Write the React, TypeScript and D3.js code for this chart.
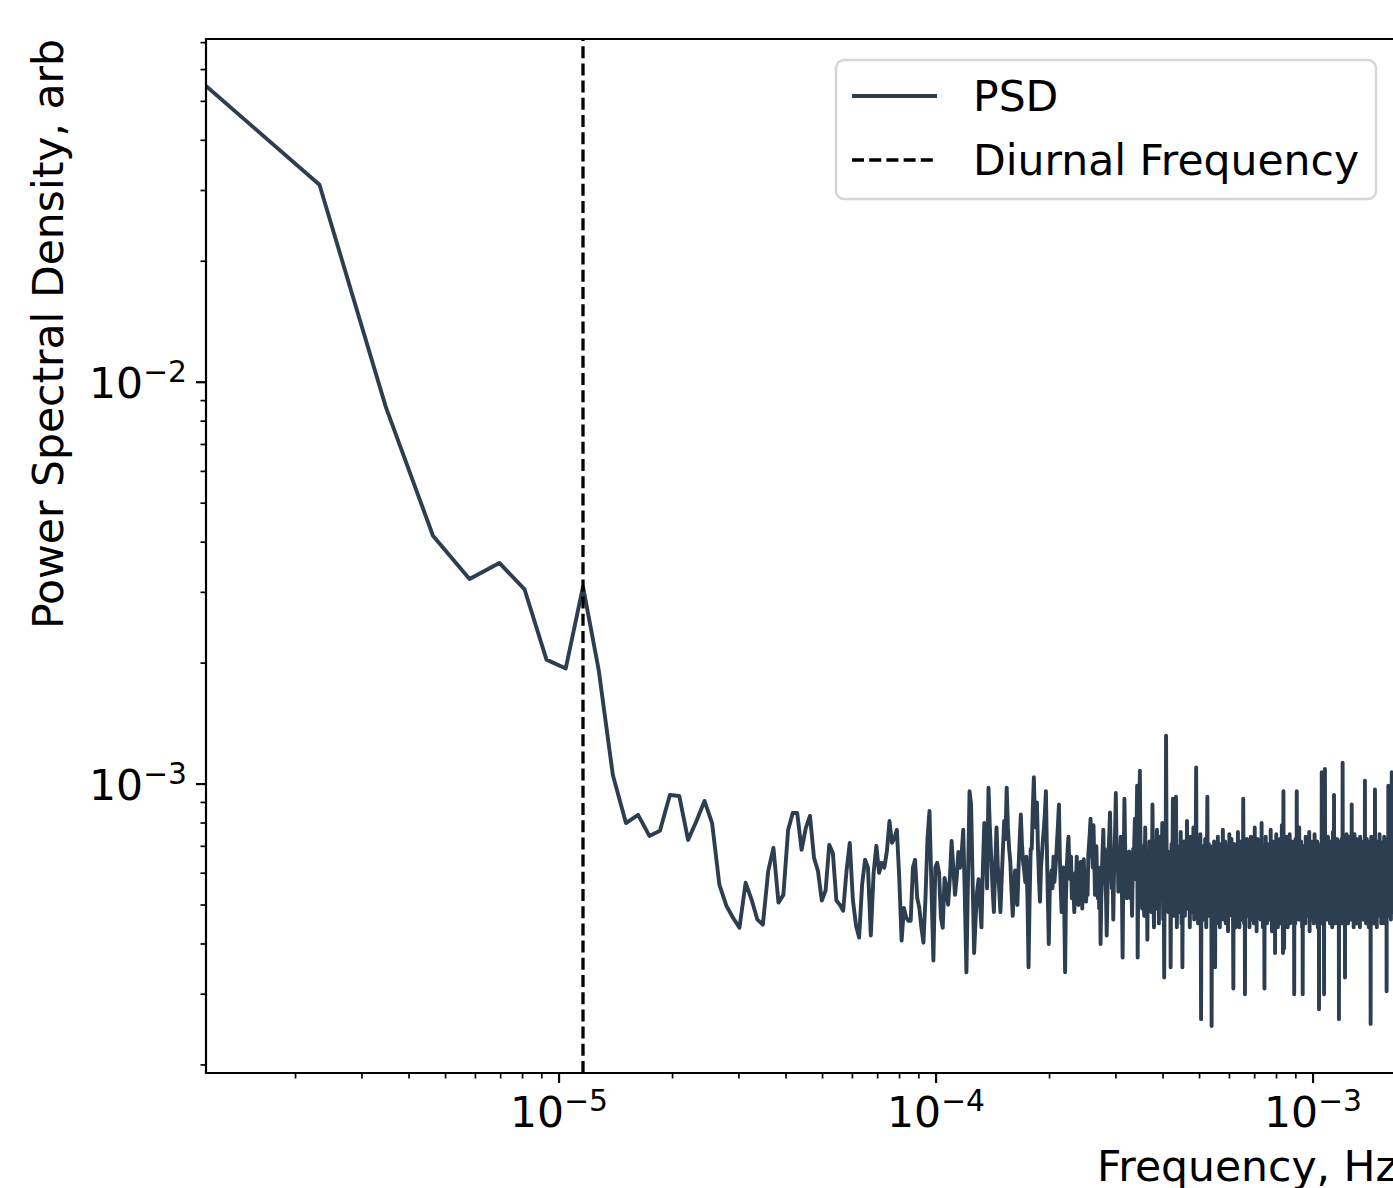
import * as d3 from 'd3'
import { useEffect, useRef } from 'react'

// 10 days of 1 s samples -> bin spacing of the periodogram
const SAMPLE_SECONDS = 864000
const DIURNAL_HZ = 1 / 86400
const TAIL_UNIT = 1e-5

// bins k = 1..100, arb units
const psdHead = [
  0.0546, 0.031, 0.00867, 0.00415, 0.00324, 0.00355, 0.00305, 0.00204, 0.00194, 0.0031,
  0.00193, 0.001053, 0.0008, 0.000838, 0.000743, 0.000765, 0.000939, 0.000934, 0.000726, 0.000809,
  0.000908, 0.0008, 0.000562, 0.000498, 0.000465, 0.000439, 0.000568, 0.000516, 0.00046, 0.000447,
  0.000608, 0.000694, 0.000507, 0.00053, 0.000769, 0.000847, 0.000847, 0.000686, 0.000778, 0.000833,
  0.000655, 0.000608, 0.000513, 0.000543, 0.000706, 0.000674, 0.000513, 0.000501, 0.000484, 0.000608,
  0.000714, 0.000513, 0.000444, 0.000415, 0.000562, 0.000648, 0.000619, 0.00042, 0.000601, 0.000702,
  0.000601, 0.000637, 0.000619, 0.000682, 0.000809, 0.000714, 0.000734, 0.000769, 0.000584, 0.000408,
  0.000492, 0.000465, 0.000457, 0.000457, 0.000619, 0.000648, 0.000521, 0.000492, 0.000439, 0.000403,
  0.000521, 0.000734, 0.000857, 0.000552, 0.000364, 0.000619, 0.000637, 0.000601, 0.000465, 0.000439,
  0.000584, 0.000552, 0.000501, 0.000584, 0.000722, 0.000619, 0.00053, 0.000584, 0.000678, 0.000619,
]

// bins k = 101..300, x1e-5
const psdMid = [
  67, 77, 52, 34, 58, 96, 89, 58, 38, 46, 54, 58, 51, 44, 62, 80, 73, 55, 98, 78,
  66, 55, 48, 62, 78, 62, 55, 48, 58, 69, 81, 73, 98, 78, 69, 64, 54, 47, 54, 61,
  55, 50, 62, 73, 84, 71, 64, 61, 57, 66, 52, 35, 52, 69, 69, 87, 104, 82, 78, 90,
  69, 58, 51, 62, 67, 73, 78, 85, 96, 69, 52, 40, 54, 58, 61, 55, 66, 57, 61, 66,
  73, 80, 89, 66, 55, 48, 58, 62, 49, 34, 52, 62, 69, 74, 62, 58, 66, 52, 58, 54,
  48, 60, 55, 66, 58, 50, 61, 52, 64, 57, 49, 63, 65, 56, 60, 51, 58, 53, 67, 71,
  76, 82, 66, 71, 62, 79, 66, 53, 62, 70, 58, 52, 62, 49, 58, 40, 52, 62, 69, 77,
  62, 69, 58, 52, 42, 52, 62, 69, 76, 85, 69, 62, 55, 62, 46, 58, 69, 78, 95, 73,
  62, 69, 54, 62, 58, 66, 74, 62, 52, 37, 58, 69, 92, 73, 62, 58, 52, 58, 66, 62,
  68, 58, 52, 62, 55, 47, 58, 69, 62, 73, 82, 66, 58, 78, 99, 37, 58, 69, 87, 108,
]

// bins k = 301..1420, x1e-5
const psdHigh = [
  73, 66, 58, 49, 61, 70, 55, 47, 63, 78, 52, 59, 68, 41, 57, 64, 50, 72, 60, 54,
  62, 48, 57, 89, 66, 51, 44, 60, 71, 58, 53, 65, 77, 49, 56, 62, 45, 69, 74, 55,
  60, 52, 67, 80, 57, 46, 63, 33, 59, 70, 54, 132, 75, 50, 61, 68, 48, 58, 65, 53,
  64, 35, 57, 71, 49, 62, 92, 55, 47, 66, 73, 58, 51, 93, 60, 44, 68, 56, 63, 52,
  59, 70, 48, 61, 76, 54, 45, 67, 35, 58, 64, 50, 72, 57, 47, 62, 69, 53, 60, 81,
  56, 49, 65, 71, 52, 60, 44, 58, 74, 63, 50, 67, 55, 48, 61, 78, 57, 46, 64, 59,
  53, 68, 110, 62, 50, 57, 72, 45, 63, 55, 69, 48, 60, 75, 52, 26, 58, 66, 47, 61,
  70, 54, 59, 46, 65, 57, 73, 50, 62, 44, 56, 68, 93, 58, 49, 63, 71, 52, 47, 60,
  66, 55, 48, 61, 25, 58, 70, 53, 46, 64, 59, 72, 50, 57, 35, 62, 68, 45, 56, 63,
  51, 60, 74, 47, 58, 65, 53, 69, 44, 57, 62, 50, 71, 56, 48, 63, 59, 77, 52, 46,
  61, 67, 54, 49, 72, 58, 45, 63, 55, 70, 51, 59, 66, 43, 57, 64, 52, 75, 60, 48,
  56, 65, 50, 62, 73, 47, 58, 54, 68, 45, 31, 60, 71, 53, 57, 49, 66, 61, 44, 58,
  69, 52, 59, 47, 63, 76, 55, 50, 61, 57, 44, 67, 72, 51, 58, 64, 46, 60, 70, 54,
  62, 49, 57, 92, 66, 53, 45, 60, 71, 30, 58, 64, 50, 67, 55, 47, 73, 59, 52, 61,
  48, 65, 57, 70, 53, 44, 61, 68, 55, 49, 74, 58, 63, 46, 56, 67, 52, 60, 71, 50,
  57, 45, 64, 59, 78, 52, 48, 62, 55, 69, 60, 43, 58, 66, 51, 73, 56, 47, 63, 59,
  54, 68, 61, 50, 57, 72, 46, 63, 55, 59, 80, 49, 58, 65, 52, 44, 62, 70, 56, 53,
  60, 31, 57, 67, 52, 63, 74, 48, 59, 55, 66, 45, 61, 71, 53, 58, 49, 64, 68, 56,
  51, 62, 58, 46, 69, 55, 77, 60, 50, 64, 57, 43, 66, 59, 72, 52, 48, 61, 56, 67,
  54, 49, 63, 70, 38, 58, 65, 53, 60, 75, 47, 56, 62, 51, 68, 57, 44, 64, 59, 71,
  52, 60, 66, 48, 57, 73, 55, 62, 45, 59, 69, 53, 61, 79, 50, 58, 64, 47, 38, 63,
  96, 57, 65, 39, 60, 54, 71, 49, 58, 67, 52, 62, 46, 74, 56, 61, 51, 68, 57, 44,
  63, 70, 55, 59, 48, 66, 57, 52, 75, 61, 45, 58, 64, 53, 69, 56, 50, 62, 72, 54,
  47, 60, 67, 52, 58, 63, 49, 71, 56, 30, 61, 66, 54, 59, 45, 73, 57, 62, 51, 64,
  58, 96, 53, 61, 47, 66, 57, 70, 52, 59, 64, 46, 60, 78, 55, 49, 63, 58, 68, 51,
  60, 56, 72, 48, 62, 57, 65, 44, 59, 67, 30, 61, 55, 70, 50, 58, 63, 47, 66, 57,
  53, 69, 58, 45, 62, 74, 51, 60, 56, 64, 49, 59, 71, 54, 47, 63, 58, 67, 52, 60,
  65, 50, 57, 76, 55, 43, 61, 58, 68, 53, 62, 47, 59, 72, 56, 51, 64, 60, 46, 69,
  57, 54, 63, 49, 70, 58, 61, 45, 66, 52, 59, 75, 55, 48, 62, 57, 67, 51, 60, 64,
  53, 47, 68, 59, 56, 72, 50, 61, 44, 58, 65, 55, 62, 49, 70, 27.5, 60, 57, 64, 52,
  59, 66, 51, 63, 48, 57, 71, 54, 60, 45, 107, 62, 56, 68, 50, 58, 64, 53, 61, 73,
  55, 49, 62, 30, 58, 67, 52, 60, 109, 56, 46, 64, 57, 71, 53, 59, 48, 65, 61, 54,
  68, 57, 50, 63, 59, 74, 46, 61, 55, 66, 52, 58, 70, 49, 62, 56, 64, 45, 59, 67,
  53, 60, 72, 48, 57, 63, 55, 69, 51, 58, 44, 65, 61, 54, 76, 50, 59, 62, 47, 66,
  58, 94, 53, 61, 49, 67, 56, 60, 45, 71, 57, 52, 64, 59, 68, 50, 55, 62, 47, 73,
  56, 61, 52, 66, 58, 48, 70, 55, 63, 57, 50, 26, 60, 67, 54, 59, 46, 72, 58, 62,
  51, 64, 57, 69, 47, 60, 55, 73, 58, 52, 62, 45, 66, 59, 113, 54, 61, 49, 68, 57,
  63, 50, 58, 71, 55, 61, 46, 67, 57, 33, 62, 54, 70, 59, 48, 64, 56, 60, 52, 75,
  58, 53, 66, 49, 61, 57, 72, 54, 60, 45, 68, 56, 63, 51, 59, 74, 47, 62, 57, 65,
  52, 60, 55, 69, 48, 63, 58, 71, 54, 61, 46, 66, 57, 89, 53, 60, 50, 67, 59, 56,
  64, 49, 58, 72, 55, 61, 44, 68, 57, 53, 63, 59, 75, 50, 56, 66, 48, 62, 58, 70,
  54, 60, 47, 65, 58, 73, 52, 57, 62, 45, 69, 56, 61, 53, 67, 58, 50, 64, 71, 55,
  59, 48, 63, 57, 70, 52, 61, 56, 66, 44, 58, 74, 55, 60, 49, 65, 57, 62, 51, 68,
  56, 63, 50, 59, 72, 54, 61, 47, 67, 58, 55, 64, 46, 60, 71, 53, 58, 66, 49, 62,
  57, 68, 52, 61, 55, 102, 58, 48, 64, 60, 53, 70, 56, 45, 63, 59, 67, 51, 57, 73,
  54, 60, 49, 66, 58, 62, 47, 71, 55, 59, 65, 52, 61, 44, 68, 57, 63, 50, 58, 69,
  56, 51, 64, 59, 72, 48, 61, 25.3, 57, 66, 53, 60, 74, 55, 47, 62, 58, 67, 52, 60,
  65, 54, 58, 70, 49, 61, 56, 63, 45, 68, 57, 52, 66, 59, 73, 50, 60, 55, 64, 48,
  97, 58, 53, 62, 69, 56, 47, 64, 59, 71, 52, 60, 57, 66, 44, 61, 55, 68, 58, 63,
  50, 59, 72, 55, 61, 47, 66, 57, 62, 53, 70, 58, 49, 64, 56, 60, 75, 52, 59, 65,
  54, 61, 48, 67, 58, 63, 52, 71, 56, 45, 62, 59, 66, 53, 69, 57, 50, 64, 60, 55,
  68, 52, 59, 63, 47, 72, 57, 61, 54, 66, 49, 60, 58, 74, 53, 62, 56, 45, 65, 59,
  57, 64, 51, 69, 58, 55, 62, 48, 67, 60, 53, 71, 56, 30.5, 61, 58, 65, 50, 63, 57,
  52, 66, 59, 73, 54, 61, 48, 99, 57, 63, 55, 68, 50, 60, 58, 70, 47, 62, 56, 64,
  59, 53, 67, 57, 62, 50, 71, 55, 60, 46, 65, 58, 63, 52, 69, 56, 107, 54, 61, 58,
  64, 50, 57, 68, 55, 61, 48, 66, 59, 53, 72, 57, 62, 49, 60, 67, 54, 58, 63, 56,
]

const legendItems = ['PSD', 'Diurnal Frequency']

const App = () => {
  const svgRef = useRef<SVGSVGElement>(null)

  useEffect(() => {
    const width = 1393
    const height = 1188
    const margin = { top: 39, left: 206, bottom: 1073 }
    const decadePx = 377
    const fStart = 1 / SAMPLE_SECONDS
    const fEnd = 0.5
    const font = 'DejaVu Sans'
    const fs = 42.5
    const supFs = fs * 0.7
    const lineColor = '#2c3e50'
    const dash = '12,5.2'

    const values = [
      ...psdHead,
      ...psdMid.map((v) => v * TAIL_UNIT),
      ...psdHigh.map((v) => v * TAIL_UNIT),
    ]
    const data: [number, number][] = values.map((v, i) => [(i + 1) / SAMPLE_SECONDS, v])

    const svg = d3.select(svgRef.current)
    svg.selectAll('*').remove()

    const x = d3
      .scaleLog()
      .domain([fStart, fEnd])
      .range([margin.left, margin.left + decadePx * Math.log10(fEnd / fStart)])

    // matplotlib style 5% margin in log space
    const lo = d3.min(values) as number
    const hi = d3.max(values) as number
    const pad = 0.05 * Math.log10(hi / lo)
    const y = d3
      .scaleLog()
      .domain([lo / Math.pow(10, pad), hi * Math.pow(10, pad)])
      .range([margin.bottom, margin.top])

    svg
      .append('rect')
      .attr('width', width)
      .attr('height', height)
      .attr('fill', '#ffffff')

    svg
      .append('defs')
      .append('clipPath')
      .attr('id', 'plot-area')
      .append('rect')
      .attr('x', margin.left)
      .attr('y', margin.top)
      .attr('width', width - margin.left)
      .attr('height', margin.bottom - margin.top)

    const line = d3
      .line<[number, number]>()
      .x((d) => x(d[0]))
      .y((d) => y(d[1]))

    svg
      .append('path')
      .datum(data)
      .attr('clip-path', 'url(#plot-area)')
      .attr('fill', 'none')
      .attr('stroke', lineColor)
      .attr('stroke-width', 3.9)
      .attr('stroke-linejoin', 'round')
      .attr('d', line)

    // diurnal marker
    svg
      .append('line')
      .attr('x1', x(DIURNAL_HZ))
      .attr('x2', x(DIURNAL_HZ))
      .attr('y1', margin.bottom)
      .attr('y2', margin.top)
      .attr('stroke', '#000')
      .attr('stroke-width', 3.3)
      .attr('stroke-dasharray', dash)

    const isMajor = (t: number) => Math.abs(Math.log10(t) - Math.round(Math.log10(t))) < 1e-6

    // x ticks
    const xTicks = x.ticks().filter((t) => x(t) >= margin.left - 0.5 && x(t) <= width + 20)
    const xt = svg.append('g')
    xt.selectAll('line')
      .data(xTicks)
      .enter()
      .append('line')
      .attr('x1', (d) => x(d))
      .attr('x2', (d) => x(d))
      .attr('y1', margin.bottom)
      .attr('y2', (d) => margin.bottom + (isMajor(d) ? 10 : 5.5))
      .attr('stroke', '#000')
      .attr('stroke-width', (d) => (isMajor(d) ? 2.2 : 1.7))

    const xLabels = xt
      .selectAll('text')
      .data(xTicks.filter(isMajor))
      .enter()
      .append('text')
      .attr('x', (d) => x(d))
      .attr('y', margin.bottom + 54)
      .attr('text-anchor', 'middle')
      .attr('font-family', font)
      .attr('font-size', fs)
      .attr('fill', '#000')
    xLabels.append('tspan').text('10')
    xLabels
      .append('tspan')
      .attr('dy', -16.5)
      .attr('font-size', supFs)
      .text((d) => '\u2212' + Math.abs(Math.round(Math.log10(d))))

    // y ticks
    const yTicks = y.ticks().filter((t) => y(t) >= margin.top - 0.5 && y(t) <= margin.bottom + 0.5)
    const yt = svg.append('g')
    yt.selectAll('line')
      .data(yTicks)
      .enter()
      .append('line')
      .attr('x1', margin.left)
      .attr('x2', (d) => margin.left - (isMajor(d) ? 10 : 5.5))
      .attr('y1', (d) => y(d))
      .attr('y2', (d) => y(d))
      .attr('stroke', '#000')
      .attr('stroke-width', (d) => (isMajor(d) ? 2.2 : 1.7))

    const yLabels = yt
      .selectAll('text')
      .data(yTicks.filter(isMajor))
      .enter()
      .append('text')
      .attr('x', margin.left - 19)
      .attr('y', (d) => y(d) + 16)
      .attr('text-anchor', 'end')
      .attr('font-family', font)
      .attr('font-size', fs)
      .attr('fill', '#000')
    yLabels.append('tspan').text('10')
    yLabels
      .append('tspan')
      .attr('dy', -16.5)
      .attr('font-size', supFs)
      .text((d) => '\u2212' + Math.abs(Math.round(Math.log10(d))))

    // spines
    const spines = svg.append('g').attr('stroke', '#000').attr('stroke-width', 2.2)
    spines
      .append('line')
      .attr('x1', margin.left)
      .attr('x2', margin.left)
      .attr('y1', margin.top)
      .attr('y2', margin.bottom)
    spines
      .append('line')
      .attr('x1', margin.left - 1.1)
      .attr('x2', width)
      .attr('y1', margin.top)
      .attr('y2', margin.top)
    spines
      .append('line')
      .attr('x1', margin.left - 1.1)
      .attr('x2', width)
      .attr('y1', margin.bottom)
      .attr('y2', margin.bottom)

    // axis labels (x label runs off the right edge, as in the source figure)
    svg
      .append('text')
      .attr('x', 1097)
      .attr('y', 1181)
      .attr('font-family', font)
      .attr('font-size', fs)
      .attr('fill', '#000')
      .text('Frequency, Hz')

    svg
      .append('text')
      .attr('transform', 'translate(63,334) rotate(-90)')
      .attr('text-anchor', 'middle')
      .attr('font-family', font)
      .attr('font-size', fs)
      .attr('fill', '#000')
      .text('Power Spectral Density, arb')

    // legend
    const lg = svg.append('g')
    lg.append('rect')
      .attr('x', 836)
      .attr('y', 60)
      .attr('width', 540)
      .attr('height', 139)
      .attr('rx', 8)
      .attr('fill', '#ffffff')
      .attr('fill-opacity', 0.8)
      .attr('stroke', '#d6d6d6')
      .attr('stroke-width', 2.5)

    legendItems.forEach((label, i) => {
      const cy = 96 + i * 64
      lg.append('line')
        .attr('x1', 852)
        .attr('x2', 937)
        .attr('y1', cy)
        .attr('y2', cy)
        .attr('stroke', i === 0 ? lineColor : '#000')
        .attr('stroke-width', i === 0 ? 3.9 : 3.3)
        .attr('stroke-dasharray', i === 0 ? null : dash)
      lg.append('text')
        .attr('x', 973)
        .attr('y', cy + 14.5)
        .attr('font-family', font)
        .attr('font-size', fs)
        .attr('fill', '#000')
        .text(label)
    })
  }, [])

  return (
    <svg
      ref={svgRef}
      width={1393}
      height={1188}
      style={{ position: 'absolute', left: 0, top: 0, display: 'block' }}
    ></svg>
  )
}

export default App
